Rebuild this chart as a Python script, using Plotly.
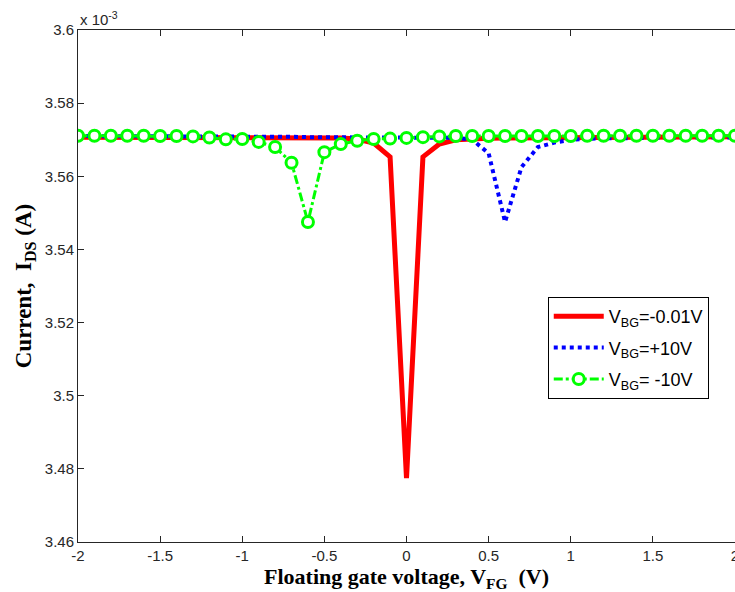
import plotly.graph_objects as go

# Floating gate voltage (V)
vfg = [-2.0, -1.9, -1.8, -1.7, -1.6, -1.5, -1.4, -1.3, -1.2, -1.1,
       -1.0, -0.9, -0.8, -0.7, -0.6, -0.5, -0.4, -0.3, -0.2, -0.1,
       0.0, 0.1, 0.2, 0.3, 0.4, 0.5, 0.6, 0.7, 0.8, 0.9,
       1.0, 1.1, 1.2, 1.3, 1.4, 1.5, 1.6, 1.7, 1.8, 1.9, 2.0]

# Current I_DS (x 10^-3 A)
ids_vbg_m001 = [3.5707, 3.5707, 3.5707, 3.5707, 3.5707, 3.5706, 3.5706, 3.5706, 3.5706, 3.5706,
                3.5706, 3.5706, 3.5706, 3.5706, 3.5706, 3.5705, 3.5705, 3.5702, 3.5691, 3.5653,
                3.4775, 3.5653, 3.5688, 3.5700, 3.5703, 3.5704, 3.5705, 3.5705, 3.5705, 3.5706,
                3.5706, 3.5706, 3.5707, 3.5707, 3.5707, 3.5707, 3.5708, 3.5708, 3.5708, 3.5708, 3.5708]

ids_vbg_p10 = [3.5710, 3.5710, 3.5710, 3.5709, 3.5709, 3.5709, 3.5709, 3.5709, 3.5708, 3.5708,
               3.5708, 3.5708, 3.5708, 3.5708, 3.5707, 3.5707, 3.5707, 3.5707, 3.5707, 3.5707,
               3.5707, 3.5707, 3.5706, 3.5705, 3.5700, 3.5663, 3.5475, 3.5625, 3.5680, 3.5692,
               3.5700, 3.5703, 3.5704, 3.5704, 3.5705, 3.5705, 3.5705, 3.5706, 3.5706, 3.5706, 3.5706]

ids_vbg_m10 = [3.5711, 3.5711, 3.5711, 3.5711, 3.5711, 3.5710, 3.5710, 3.5709, 3.5706, 3.5701,
               3.5702, 3.5694, 3.5680, 3.5637, 3.5475, 3.5666, 3.5688, 3.5697, 3.5702, 3.5703,
               3.5705, 3.5707, 3.5709, 3.5710, 3.5710, 3.5710, 3.5710, 3.5710, 3.5710, 3.5710,
               3.5710, 3.5711, 3.5711, 3.5711, 3.5711, 3.5711, 3.5711, 3.5711, 3.5711, 3.5711, 3.5711]

series_names = ["V<sub>BG</sub>=-0.01V", "V<sub>BG</sub>=+10V", "V<sub>BG</sub>= -10V"]

y_ticks = [3.46, 3.48, 3.5, 3.52, 3.54, 3.56, 3.58, 3.6]
y_ticktext = ["3.46", "3.48", "3.5", "3.52", "3.54", "3.56", "3.58", "3.6"]
x_ticks = [-2, -1.5, -1, -0.5, 0, 0.5, 1, 1.5, 2]
x_ticktext = ["-2", "-1.5", "-1", "-0.5", "0", "0.5", "1", "1.5", "2"]

fig = go.Figure()
fig.add_trace(go.Scatter(
    x=vfg, y=ids_vbg_m001, mode="lines", name=series_names[0], legendgroup="a",
    line=dict(color="#ff0000", width=5)))
fig.add_trace(go.Scatter(
    x=vfg, y=ids_vbg_p10, mode="lines", name=series_names[1], legendgroup="b",
    line=dict(color="#0000ff", width=4, dash="dot")))
fig.add_trace(go.Scatter(
    x=vfg, y=ids_vbg_m10, mode="lines+markers", name=series_names[2], legendgroup="c",
    line=dict(color="#00ff00", width=3, dash="dashdot"),
    marker=dict(symbol="circle", size=11, color="white",
                line=dict(color="#00ff00", width=3))))

tick_font = dict(family="Liberation Sans, Arial", size=15, color="#262626")

fig.update_layout(
    width=735, height=592,
    margin=dict(l=78, r=0, t=30, b=50),
    paper_bgcolor="white", plot_bgcolor="white",
    showlegend=True,
    legend=dict(
        x=0.715, y=0.4785, xanchor="left", yanchor="top",
        bgcolor="white", bordercolor="black", borderwidth=1,
        font=dict(family="Liberation Sans, Arial", size=18, color="black"),
        itemwidth=50, traceorder="grouped", tracegroupgap=5),
    xaxis=dict(
        range=[-2, 2], tickvals=x_ticks, ticktext=x_ticktext,
        ticks="inside", ticklen=6, tickcolor="#262626", tickwidth=1,
        showline=True, linecolor="#262626", linewidth=1, mirror="ticks",
        showgrid=False, zeroline=False, tickfont=tick_font,
        automargin=False, ticklabeloverflow="allow",
        title=dict(text="<b>Floating gate voltage, V<sub>FG</sub>  (V)</b>",
                   font=dict(family="Liberation Serif, Times New Roman", size=22, color="black"),
                   standoff=2)),
    yaxis=dict(
        range=[3.46, 3.6], tickvals=y_ticks, ticktext=y_ticktext,
        ticks="inside", ticklen=6, tickcolor="#262626", tickwidth=1,
        showline=True, linecolor="#262626", linewidth=1, mirror=False,
        showgrid=False, zeroline=False, tickfont=tick_font,
        automargin=False, ticklabeloverflow="allow",
        title=dict(text="<b>Current,  I<sub>DS</sub> (A)</b>",
                   font=dict(family="Liberation Serif, Times New Roman", size=23, color="black"),
                   standoff=6)),
    annotations=[dict(
        x=0, y=1, xref="paper", yref="paper", xanchor="left", yanchor="bottom",
        text="x 10<sup>-3</sup>", showarrow=False, yshift=0,
        font=dict(family="Liberation Sans, Arial", size=15, color="#262626"))]
)

fig.write_html("out.html")
